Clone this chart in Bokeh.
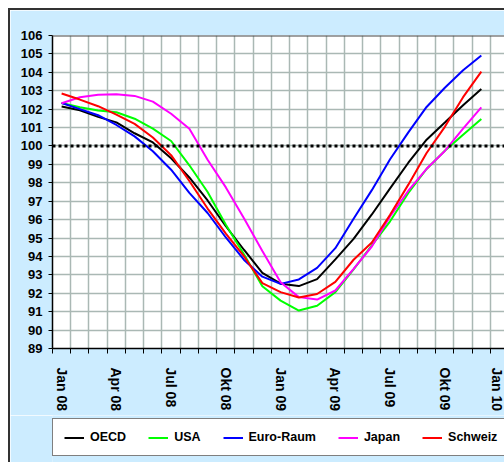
from bokeh.plotting import figure
from bokeh.layouts import column
from bokeh.models import FixedTicker, Span, Legend, LegendItem, Range1d
from bokeh.embed import file_html
from bokeh.resources import INLINE

months = ["Jan 08", "Feb 08", "Mär 08", "Apr 08", "Mai 08", "Jun 08", "Jul 08", "Aug 08",
          "Sep 08", "Okt 08", "Nov 08", "Dez 08", "Jan 09", "Feb 09", "Mär 09", "Apr 09",
          "Mai 09", "Jun 09", "Jul 09", "Aug 09", "Sep 09", "Okt 09", "Nov 09", "Dez 09"]
tick_labels = ["Jan 08", "Apr 08", "Jul 08", "Okt 08", "Jan 09", "Apr 09", "Jul 09", "Okt 09", "Jan 10"]

oecd = [102.14, 101.94, 101.58, 101.28, 100.69, 100.19, 99.33, 98.29, 97.04, 95.64, 94.35, 93.11,
        92.52, 92.39, 92.77, 93.84, 94.95, 96.28, 97.70, 99.09, 100.34, 101.27, 102.21, 103.10]
usa = [102.33, 102.10, 101.93, 101.83, 101.48, 100.94, 100.27, 98.95, 97.50, 95.72, 94.10, 92.38,
       91.60, 91.06, 91.32, 92.06, 93.30, 94.60, 95.91, 97.45, 98.75, 99.74, 100.61, 101.47]
euro = [102.33, 102.00, 101.67, 101.14, 100.52, 99.71, 98.71, 97.45, 96.36, 95.03, 93.81, 92.90,
        92.51, 92.75, 93.38, 94.45, 96.05, 97.60, 99.28, 100.74, 102.12, 103.16, 104.11, 104.91]
japan = [102.32, 102.65, 102.78, 102.81, 102.72, 102.41, 101.75, 100.93, 99.25, 97.75, 96.06, 94.30,
         92.60, 91.79, 91.66, 92.15, 93.33, 94.54, 96.17, 97.57, 98.76, 99.73, 100.94, 102.10]
schweiz = [102.85, 102.52, 102.16, 101.70, 101.20, 100.46, 99.50, 98.10, 96.60, 95.24, 94.00, 92.55,
           92.06, 91.77, 91.96, 92.62, 93.82, 94.76, 96.26, 97.90, 99.62, 101.04, 102.65, 104.04]

series_names = ["OECD", "USA", "Euro-Raum", "Japan", "Schweiz"]
series_values = [oecd, usa, euro, japan, schweiz]
series_colors = ["#000000", "#00FF00", "#0000FF", "#FF00FF", "#FF0000"]

x = list(range(len(months)))
n_cat = len(months) + 1
bg = "#CCECFF"

p = figure(width=494, height=405, x_range=Range1d(-0.5, 24.27), y_range=Range1d(89, 106),
           output_backend="svg", toolbar_location=None,
           min_border_left=42, min_border_top=25, min_border_right=0, min_border_bottom=67,
           background_fill_color="white", border_fill_color=bg,
           outline_line_color=None)

grid_color = "#AAB8B4"
p.xaxis.ticker = FixedTicker(ticks=list(range(0, n_cat, 3)),
                             minor_ticks=[i - 0.5 for i in range(n_cat + 1)])
p.xaxis.major_label_overrides = {i * 3: lab for i, lab in enumerate(tick_labels)}
p.xaxis.major_label_orientation = "vertical"
p.xaxis.major_tick_out = 0
p.xaxis.major_tick_in = 0
p.xaxis.minor_tick_out = 5
p.xaxis.minor_tick_in = 0
p.xaxis.minor_tick_line_color = "black"
p.xaxis.minor_tick_line_width = 1
p.xaxis.major_label_standoff = 14
p.xaxis.axis_line_color = "black"
p.xaxis.axis_line_width = 1.5
p.xaxis.major_label_text_font = "Liberation Sans"
p.xaxis.major_label_text_font_style = "bold"
p.xaxis.major_label_text_font_size = "14px"
p.xaxis.major_label_text_color = "black"

p.yaxis.ticker = FixedTicker(ticks=list(range(89, 107)))
p.yaxis.major_tick_out = 4
p.yaxis.major_tick_in = 0
p.yaxis.minor_tick_line_color = None
p.yaxis.major_label_standoff = 6
p.yaxis.axis_line_color = "black"
p.yaxis.axis_line_width = 1.5
p.yaxis.major_label_text_font = "Liberation Sans"
p.yaxis.major_label_text_font_style = "bold"
p.yaxis.major_label_text_font_size = "13px"
p.yaxis.major_label_text_color = "black"

p.xgrid.ticker = FixedTicker(ticks=[i - 0.5 for i in range(n_cat + 1)])
p.ygrid.ticker = FixedTicker(ticks=list(range(89, 107)))
p.xgrid.grid_line_color = grid_color
p.ygrid.grid_line_color = grid_color
p.xgrid.grid_line_width = 1.5
p.ygrid.grid_line_width = 1.5

# top edge of the plot area
p.add_layout(Span(location=106, dimension="width", line_color="#444444", line_width=2))
p.add_layout(Span(location=100, dimension="width", line_color="black",
                  line_width=3, line_dash="3 3"))

for vals, col in zip(series_values, series_colors):
    p.line(x, vals, line_color=col, line_width=2)

# legend strip below the chart (its lines lie outside this strip's visible range)
lf = figure(width=494, height=47, x_range=Range1d(0, 1), y_range=Range1d(0, 1),
            output_backend="svg", toolbar_location=None,
            x_axis_location=None, y_axis_location=None,
            min_border_left=0, min_border_right=0, min_border_top=0, min_border_bottom=0,
            background_fill_color=bg, border_fill_color=bg, outline_line_color=None)
lf.grid.visible = False
items = []
for name, vals, col in zip(series_names, series_values, series_colors):
    r = lf.line(x, vals, line_color=col, line_width=2)
    items.append(LegendItem(label=name, renderers=[r]))
legend = Legend(items=items, orientation="horizontal", location=(0, 6),
                glyph_width=20, glyph_height=9, label_height=9, label_standoff=6,
                spacing=22, padding=11, margin=0,
                label_text_font="Liberation Sans", label_text_font_style="bold",
                label_text_font_size="12.5px", label_text_color="black",
                border_line_color="black", border_line_width=1,
                background_fill_color="white", background_fill_alpha=1.0)
lf.add_layout(legend)

layout = column(p, lf, spacing=0)
layout.margin = (8, 0, 0, 8)
layout.styles = {"border-left": "2px solid #333333", "border-top": "2px solid #333333"}

open("out.html", "w").write(file_html(layout, INLINE))
